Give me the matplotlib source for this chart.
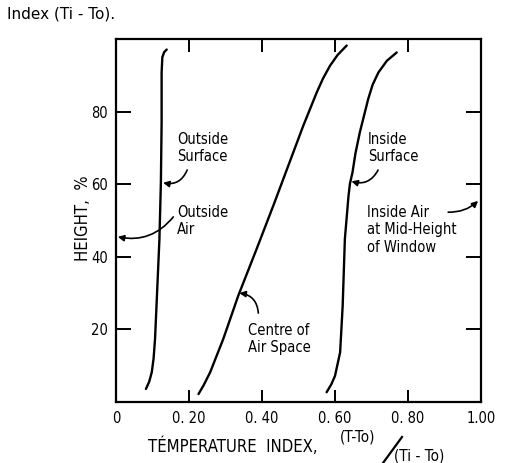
import numpy as np
import matplotlib
matplotlib.use("Agg")
import matplotlib.pyplot as plt
from matplotlib.lines import Line2D

# curves (x = temperature index, y = height %)
outside_surface_x = [0.082, 0.091, 0.098, 0.103, 0.107, 0.113, 0.119, 0.123, 0.125, 0.125, 0.127, 0.132, 0.139]
outside_surface_y = [3.6, 5.6, 8.2, 12.0, 17.4, 31.1, 44.9, 60.5, 77.0, 90.8, 95.0, 96.4, 97.1]

centre_x = [0.226, 0.240, 0.258, 0.294, 0.335, 0.385, 0.431, 0.472, 0.513, 0.550,
            0.567, 0.586, 0.607, 0.632]
centre_y = [2.2, 4.6, 8.2, 17.4, 29.3, 42.1, 54.1, 65.1, 76.1, 85.3,
            89.1, 92.6, 95.6, 98.2]

inside_surface_x = [0.577, 0.590, 0.600, 0.614, 0.621, 0.627, 0.637, 0.641, 0.648, 0.656,
                    0.668, 0.691, 0.703, 0.719, 0.742, 0.769]
inside_surface_y = [2.7, 4.9, 7.2, 13.7, 26.5, 44.9, 56.8, 60.2, 63.3, 68.5,
                    74.3, 83.5, 87.4, 90.8, 94.0, 96.3]

x_ticks = [0, 0.2, 0.4, 0.6, 0.8, 1.0]
x_tick_labels = ["0", "0. 20", "0. 40", "0. 60", "0. 80", "1.00"]
y_ticks = [20, 40, 60, 80]
y_tick_labels = ["20", "40", "60", "80"]

FONT = dict(family="DejaVu Sans", stretch="condensed")

fig = plt.figure(figsize=(5.22, 4.63), dpi=100)
ax = fig.add_axes([0.2222, 0.1317, 0.6993, 0.784])

for xs, ys in [(outside_surface_x, outside_surface_y),
               (centre_x, centre_y),
               (inside_surface_x, inside_surface_y)]:
    ax.plot(xs, ys, color="black", lw=1.7, solid_capstyle="round",
            solid_joinstyle="round")

ax.set_xlim(0, 1.0)
ax.set_ylim(0, 100)
for s in ax.spines.values():
    s.set_linewidth(1.6)

ax.set_xticks(x_ticks[1:-1])
ax.set_xticklabels([])
ax.set_yticks(y_ticks)
ax.set_yticklabels(y_tick_labels, fontsize=10.5, **FONT)
ax.tick_params(axis="x", direction="in", length=9, width=1.4, top=True, bottom=True)
ax.tick_params(axis="y", direction="in", length=11, width=1.4, left=True, right=True, pad=6)

# x tick labels incl. the end values
for v, lab in zip(x_ticks, x_tick_labels):
    ax.text(v, -0.025, lab, transform=ax.get_xaxis_transform(), ha="center", va="top",
            fontsize=10.5, **FONT)

# annotations
notes = [
    ("Outside\nSurface", (0.167, 70.0), (0.195, 63.9), (0.129, 60.4), -0.4),
    ("Outside\nAir", (0.167, 49.9), (0.157, 51.0), (0.005, 45.5), -0.3),
    ("Inside\nSurface", (0.690, 70.0), (0.718, 63.9), (0.645, 60.8), -0.4),
    ("Inside Air\nat Mid-Height\nof Window", (0.688, 47.4), (0.910, 52.3), (0.992, 55.4), 0.2),
    ("Centre of\nAir Space", (0.362, 17.4), (0.390, 24.5), (0.338, 30.0), 0.4),
]
for txt, pos, start, end, rad in notes:
    ax.text(pos[0], pos[1], txt, ha="left", va="center", fontsize=10.5,
            linespacing=1.2, **FONT)
    ax.annotate("", xy=end, xytext=start,
                arrowprops=dict(arrowstyle="-|>", color="black", lw=1.2,
                                mutation_scale=9, shrinkA=0, shrinkB=0,
                                connectionstyle=f"arc3,rad={rad}"))

# axis titles
fig.text(83 / 522, 1 - 218 / 463, "HEIGHT,  %", rotation=90, ha="center", va="center",
         fontsize=12, **FONT)
fig.text(148 / 522, 1 - 447 / 463, "TÉMPERATURE  INDEX,", ha="left", va="center",
         fontsize=12, **FONT)
fig.text(340 / 522, 1 - 437 / 463, "(T-To)", ha="left", va="center", fontsize=11, **FONT)
fig.text(394 / 522, 1 - 456 / 463, "(Ti - To)", ha="left", va="center", fontsize=11, **FONT)
fig.add_artist(Line2D([383 / 522, 402 / 522], [1 - 463 / 463, 1 - 437 / 463],
                      transform=fig.transFigure, color="black", lw=1.6))

fig.text(7 / 522, 1 - 14 / 463, "Index (Ti - To).", ha="left", va="center",
         fontsize=11, family="DejaVu Sans")

fig.savefig("out.png", dpi=100)
